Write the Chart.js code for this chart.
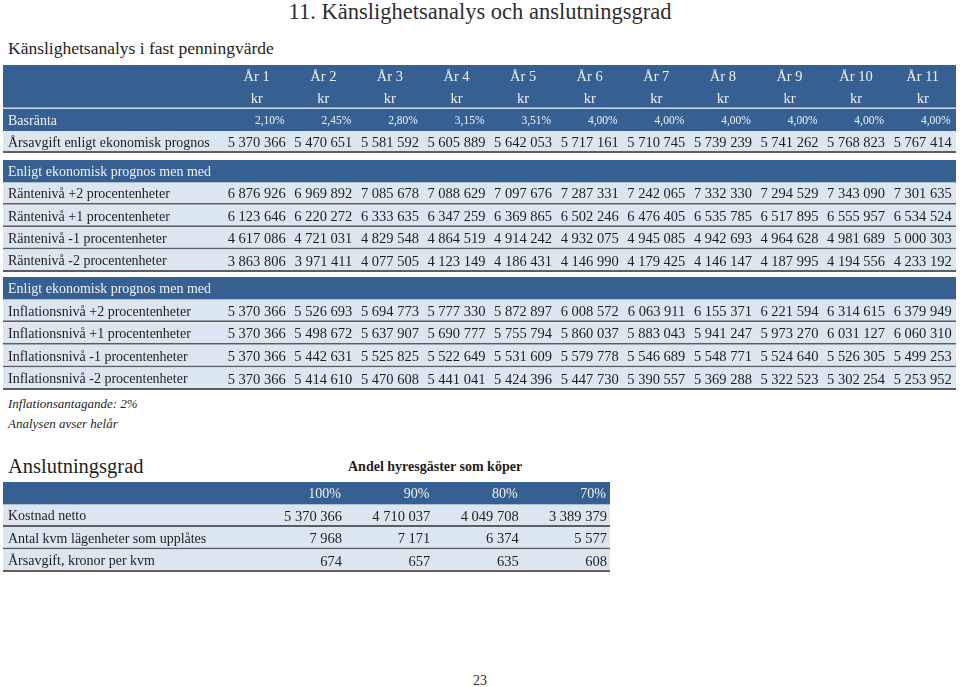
<!DOCTYPE html>
<html><head><meta charset="utf-8">
<script src="https://cdn.jsdelivr.net/npm/chart.js@4/dist/chart.umd.min.js"></script>
<style>
body{margin:0;width:960px;height:687px;position:relative;background:#fff;font-family:"Liberation Serif",serif;color:#222;overflow:hidden}
.t{position:absolute;white-space:nowrap}
canvas{position:absolute}
</style></head><body>
<div class="t" style="left:0;width:960px;text-align:center;top:0px;font-size:22.5px;line-height:24px;color:#2e2e2e">11. Känslighetsanalys och anslutningsgrad</div>
<div class="t" style="left:8px;top:38px;font-size:17.5px;line-height:20px;color:#1e1e1e">Känslighetsanalys i fast penningvärde</div>
<div class="t" style="left:8px;top:396px;font-size:13px;line-height:15px;font-style:italic;color:#1e1e1e">Inflationsantagande: 2%</div>
<div class="t" style="left:8px;top:416px;font-size:13px;line-height:15px;font-style:italic;color:#1e1e1e">Analysen avser helår</div>
<div class="t" style="left:8px;top:454px;font-size:20.5px;line-height:24px;color:#1e1e1e">Anslutningsgrad</div>
<div class="t" style="left:348px;top:459px;font-size:14px;line-height:16px;font-weight:bold;color:#1e1e1e">Andel hyresgäster som köper</div>
<div class="t" style="left:0;width:960px;text-align:center;top:673px;font-size:14px;line-height:16px;color:#2e2e2e">23</div>

<canvas id="cA" width="953" height="88" style="left:3px;top:65px"></canvas>
<canvas id="cB" width="953" height="112" style="left:3px;top:160px"></canvas>
<canvas id="cC" width="953" height="113" style="left:3px;top:277px"></canvas>
<canvas id="cD" width="607" height="90" style="left:3px;top:482px"></canvas>

<script>
// ---- data ----
const years = ['År 1','År 2','År 3','År 4','År 5','År 6','År 7','År 8','År 9','År 10','År 11'];
const units = ['kr','kr','kr','kr','kr','kr','kr','kr','kr','kr','kr'];
const basranta = [2.10,2.45,2.80,3.15,3.51,4.00,4.00,4.00,4.00,4.00,4.00];
const arsavgift = [5370366,5470651,5581592,5605889,5642053,5717161,5710745,5739239,5741262,5768823,5767414];
const rantaP2 = [6876926,6969892,7085678,7088629,7097676,7287331,7242065,7332330,7294529,7343090,7301635];
const rantaP1 = [6123646,6220272,6333635,6347259,6369865,6502246,6476405,6535785,6517895,6555957,6534524];
const rantaM1 = [4617086,4721031,4829548,4864519,4914242,4932075,4945085,4942693,4964628,4981689,5000303];
const rantaM2 = [3863806,3971411,4077505,4123149,4186431,4146990,4179425,4146147,4187995,4194556,4233192];
const inflP2 = [5370366,5526693,5694773,5777330,5872897,6008572,6063911,6155371,6221594,6314615,6379949];
const inflP1 = [5370366,5498672,5637907,5690777,5755794,5860037,5883043,5941247,5973270,6031127,6060310];
const inflM1 = [5370366,5442631,5525825,5522649,5531609,5579778,5546689,5548771,5524640,5526305,5499253];
const inflM2 = [5370366,5414610,5470608,5441041,5424396,5447730,5390557,5369288,5322523,5302254,5253952];
const andel = ['100%','90%','80%','70%'];
const kostnadNetto = [5370366,4710037,4049708,3389379];
const antalKvm = [7968,7171,6374,5577];
const arsavgiftKvm = [674,657,635,608];

// ---- styles ----
const DARK='#376092', LIGHT='#dce6f1', RULE='#5e5e5e', HEADTXT='#eef2f8', TXT='#1e1e1e', FONT='"Liberation Serif", serif';
const fmtInt = n => String(n).replace(/\B(?=(\d{3})+(?!\d))/g,' ');
const fmtPct = v => v.toFixed(2).replace('.',',') + '%';

const kindStyle = {
  head:    {bg:DARK,  bw:0,   bc:DARK},
  headEnd: {bg:DARK,  bw:1.5, bc:'#c8d6ea'},
  pct:     {bg:DARK,  bw:0,   bc:DARK},
  section: {bg:DARK,  bw:0,   bc:DARK},
  data:    {bg:LIGHT, bw:2,   bc:RULE}
};

function makeTable(id, rows, xMin, xMax, headHalf){
  const textPlugin = {
    id:'cellText',
    afterDatasetsDraw(chart){
      const c = chart.ctx, xs = chart.scales.x, ys = chart.scales.y;
      c.save();
      c.textBaseline = 'middle';
      rows.forEach((r,i)=>{
        const y = ys.getPixelForValue(i) + 1;
        const dark = kindStyle[r.kind].bg === DARK;
        if (r.label){
          c.fillStyle = dark ? HEADTXT : TXT;
          c.font = '14px ' + FONT;
          c.textAlign = 'left';
          c.fillText(r.label, xs.left + 5, y);
        }
        (r.cells||[]).forEach((v,j)=>{
          const right = xs.getPixelForValue(j+1);
          c.fillStyle = dark ? HEADTXT : TXT;
          if (r.kind==='head' || r.kind==='headEnd'){
            if (r.align==='right'){
              c.font = '14px ' + FONT; c.textAlign='right'; c.fillText(v, right-1, y);
            } else {
              c.font = '14.5px ' + FONT; c.textAlign='center'; c.fillText(v, right-headHalf, y);
            }
          } else if (r.kind==='pct'){
            c.font = '11.5px ' + FONT; c.textAlign='right'; c.fillText(v, right-1, y);
          } else {
            c.font = '14.5px ' + FONT; c.textAlign='right'; c.fillText(v, right, y);
          }
        });
      });
      c.restore();
    }
  };
  return new Chart(document.getElementById(id), {
    type:'bar',
    data:{
      labels: rows.map((r,i)=>String(i)),
      datasets:[{
        data: rows.map(()=>[xMin,xMax]),
        backgroundColor: rows.map(r=>kindStyle[r.kind].bg),
        borderColor: rows.map(r=>kindStyle[r.kind].bc),
        borderWidth: ctx => { const s = kindStyle[rows[ctx.dataIndex].kind]; return {top:0,left:0,right:0,bottom:s.bw}; },
        borderSkipped:false,
        inflateAmount:0,
        barPercentage:1, categoryPercentage:1
      }]
    },
    options:{
      indexAxis:'y', responsive:false, animation:false, devicePixelRatio:1,
      layout:{padding:0},
      plugins:{legend:{display:false}, tooltip:{enabled:false}},
      scales:{
        x:{type:'linear', min:xMin, max:xMax, display:false},
        y:{type:'category', display:false, offset:true}
      },
      events:[]
    },
    plugins:[textPlugin]
  });
}

const SECTION = 'Enligt ekonomisk prognos men med';
const main = [-3.245, 11.065];

makeTable('cA', [
  {kind:'head', cells:years},
  {kind:'headEnd', cells:units},
  {kind:'pct', label:'Basränta', cells:basranta.map(fmtPct)},
  {kind:'data', label:'Årsavgift enligt ekonomisk prognos', cells:arsavgift.map(fmtInt)}
], main[0], main[1], 29);

makeTable('cB', [
  {kind:'section', label:SECTION},
  {kind:'data', label:'Räntenivå +2 procentenheter', cells:rantaP2.map(fmtInt)},
  {kind:'data', label:'Räntenivå +1 procentenheter', cells:rantaP1.map(fmtInt)},
  {kind:'data', label:'Räntenivå -1 procentenheter', cells:rantaM1.map(fmtInt)},
  {kind:'data', label:'Räntenivå -2 procentenheter', cells:rantaM2.map(fmtInt)}
], main[0], main[1], 29);

makeTable('cC', [
  {kind:'section', label:SECTION},
  {kind:'data', label:'Inflationsnivå +2 procentenheter', cells:inflP2.map(fmtInt)},
  {kind:'data', label:'Inflationsnivå +1 procentenheter', cells:inflP1.map(fmtInt)},
  {kind:'data', label:'Inflationsnivå -1 procentenheter', cells:inflM1.map(fmtInt)},
  {kind:'data', label:'Inflationsnivå -2 procentenheter', cells:inflM2.map(fmtInt)}
], main[0], main[1], 29);

makeTable('cD', [
  {kind:'head', align:'right', cells:andel},
  {kind:'data', label:'Kostnad netto', cells:kostnadNetto.map(fmtInt)},
  {kind:'data', label:'Antal kvm lägenheter som upplåtes', cells:antalKvm.map(fmtInt)},
  {kind:'data', label:'Årsavgift, kronor per kvm', cells:arsavgiftKvm.map(fmtInt)}
], -2.838, 4.034, 29);
</script>
</body></html>
